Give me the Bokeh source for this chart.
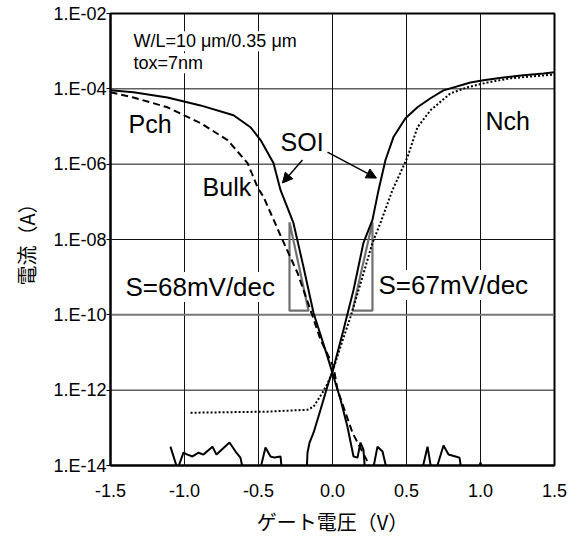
from bokeh.plotting import figure
from bokeh.models import (Range1d, FixedTicker, CustomJSTickFormatter, Label,
                          Arrow, NormalHead, Span)
from bokeh.embed import file_html
from bokeh.resources import INLINE

# ---------------- data (gate voltage V, log10 of drain current A) ----------------
soi_pch_v = [-1.5, -1.345, -1.115, -0.892, -0.669, -0.554, -0.486, -0.399, -0.351,
             -0.264, -0.196, -0.128, -0.034, 0.007, 0.054, 0.101, 0.142, 0.169,
             0.189, 0.209, 0.223, 0.264, 0.304, 0.338, 0.378, 0.595, 0.642, 0.676,
             0.709, 0.750, 0.784, 0.831, 0.858, 0.878, 0.973, 1.0, 1.027, 1.5]
soi_pch_log = [-4.04, -4.09, -4.23, -4.44, -4.70, -5.02, -5.36, -5.97, -6.69,
               -7.56, -8.73, -9.95, -11.11, -11.64, -12.25, -12.97, -13.76, -13.79,
               -13.39, -13.58, -14.3, -14.3, -13.50, -13.63, -14.3, -14.3, -13.50, -14.3,
               -14.0, -13.47, -13.71, -13.76, -13.79, -14.3, -14.3, -13.92, -14.3, -14.3]

soi_nch_v = [-1.095, -1.047, -1.007, -0.980, -0.946, -0.905, -0.872, -0.811, -0.784,
             -0.696, -0.655, -0.622, -0.595, -0.50, -0.453, -0.419, -0.392, -0.351,
             -0.338, -0.176, -0.169, -0.155, -0.128, -0.081, -0.027, 0.0, 0.074,
             0.142, 0.209, 0.270, 0.311, 0.358, 0.412, 0.493, 0.574, 0.662, 0.750,
             0.932, 1.020, 1.155, 1.290, 1.426, 1.5]
soi_nch_log = [-13.50, -14.1, -13.66, -13.71, -13.76, -13.66, -13.71, -13.50, -13.71,
               -13.39, -13.63, -13.79, -14.3, -14.3, -13.52, -13.76, -13.79, -13.76,
               -14.3, -14.3, -13.66, -13.39, -13.13, -12.52, -11.80, -11.51, -10.40,
               -9.34, -8.09, -7.48, -6.69, -5.89, -5.28, -4.78, -4.49, -4.25, -4.04,
               -3.83, -3.77, -3.70, -3.64, -3.59, -3.56]

bulk_pch_v = [-1.5, -1.345, -1.115, -0.892, -0.709, -0.574, -0.507, -0.466, -0.338,
              -0.236, -0.149, -0.081, 0.007, 0.034, 0.088, 0.135, 0.176, 0.236, 0.243]
bulk_pch_log = [-4.09, -4.23, -4.49, -4.91, -5.36, -5.97, -6.61, -6.87, -8.01,
                -8.89, -9.87, -10.66, -11.38, -11.99, -12.60, -13.13, -13.44, -13.89, -14.0]

bulk_nch_v = [-0.959, -0.439, -0.169, -0.128, -0.068, -0.034, 0.0, 0.054, 0.122,
              0.203, 0.270, 0.324, 0.405, 0.446, 0.507, 0.574, 0.662, 0.797, 0.912,
              1.047, 1.203, 1.5]
bulk_nch_log = [-12.60, -12.57, -12.52, -12.44, -12.07, -11.83, -11.51, -10.85, -10.05,
                -8.99, -8.09, -7.56, -6.69, -6.34, -5.81, -5.02, -4.57, -4.12, -3.96,
                -3.83, -3.72, -3.62]

# slope triangles (V, log10 I)
tri_left_v = [-0.2905, -0.2905, -0.162, -0.2905]
tri_right_v = [0.270, 0.270, 0.135, 0.270]
tri_log = [-7.54, -9.89, -9.89, -7.54]

x_ticks = [-1.5, -1.0, -0.5, 0.0, 0.5, 1.0, 1.5]
x_labels = ["-1.5", "-1.0", "-0.5", "0.0", "0.5", "1.0", "1.5"]
y_ticks = [1e-14, 1e-12, 1e-10, 1e-8, 1e-6, 1e-4, 1e-2]
y_labels = ["1.E-14", "1.E-12", "1.E-10", "1.E-08", "1.E-06", "1.E-04", "1.E-02"]


def cur(logs):
    return [10.0 ** v for v in logs]


FONT = "Liberation Sans"
JP = "Noto Sans CJK JP"

p = figure(width=571, height=538, x_range=Range1d(-1.5, 1.5),
           y_range=Range1d(1e-14, 1e-2), y_axis_type="log",
           output_backend="svg", toolbar_location=None,
           min_border_left=110, min_border_right=17, min_border_top=13,
           min_border_bottom=72)
p.background_fill_color = "white"
p.border_fill_color = "white"
p.outline_line_color = "black"
p.outline_line_width = 2
p.xgrid.visible = False
p.ygrid.visible = False

# axes
p.xaxis.ticker = FixedTicker(ticks=x_ticks)
p.yaxis.ticker = FixedTicker(ticks=y_ticks)
fmt_code = """
let best = -1, bd = 1e9;
for (let i = 0; i < tv.length; i++) {
  const d = LOGMODE ? Math.abs(Math.log10(tv[i]) - Math.log10(tick)) : Math.abs(tv[i] - tick);
  if (d < bd) { bd = d; best = i; }
}
return (best >= 0 && bd < 1e-6) ? tl[best] : "";
"""
p.xaxis.formatter = CustomJSTickFormatter(args=dict(tv=x_ticks, tl=x_labels),
                                          code=fmt_code.replace("LOGMODE", "false"))
p.yaxis.formatter = CustomJSTickFormatter(args=dict(tv=y_ticks, tl=y_labels),
                                          code=fmt_code.replace("LOGMODE", "true"))
for ax in (p.xaxis[0], p.yaxis[0]):
    ax.axis_line_color = "black"
    ax.axis_line_width = 2
    ax.major_label_text_font = FONT
    ax.major_label_text_font_size = "18px"
    ax.major_label_text_color = "black"
    ax.minor_tick_line_color = None
    ax.axis_label_text_font = JP
    ax.axis_label_text_font_size = "20px"
    ax.axis_label_text_font_style = "normal"
    ax.axis_label_text_color = "black"
p.xaxis.major_tick_line_color = None
p.xaxis.major_tick_out = 0
p.xaxis.major_tick_in = 0
p.xaxis.major_label_standoff = 18
p.xaxis.axis_label = "ゲート電圧（V）"
p.xaxis.axis_label_standoff = 7
p.yaxis.major_tick_line_color = "black"
p.yaxis.major_tick_out = 4
p.yaxis.major_tick_in = 0
p.yaxis.major_label_standoff = 0
p.yaxis.axis_label = "電流（A）"
p.yaxis.axis_label_standoff = 9

# grid lines at the tick positions
for v in x_ticks[1:-1]:
    p.add_layout(Span(location=v, dimension="height", line_color="#111111",
                      line_width=1, level="underlay"))
for v in y_ticks[1:-1]:
    gray = abs(v - 1e-10) < 1e-12
    p.add_layout(Span(location=v, dimension="width",
                      line_color="#777777" if gray else "#111111",
                      line_width=2 if gray else 1, level="underlay"))

# slope triangles
p.line(tri_left_v, cur(tri_log), line_color="#707070", line_width=2.2)
p.line(tri_right_v, cur(tri_log), line_color="#707070", line_width=2.2)

# curves
p.line(bulk_pch_v, cur(bulk_pch_log), line_color="black", line_width=2, line_dash="7 4")
p.line(bulk_nch_v, cur(bulk_nch_log), line_color="black", line_width=2, line_dash="2 2")
p.line(soi_pch_v, cur(soi_pch_log), line_color="black", line_width=2)
p.line(soi_nch_v, cur(soi_nch_log), line_color="black", line_width=2)


def lab(x, lg, text, size):
    p.add_layout(Label(x=x, y=10.0 ** lg, text=text, text_font=FONT,
                       text_font_size=size, text_color="black",
                       text_align="left", text_baseline="middle",
                       background_fill_color="white"))


lab(-1.345, -2.74, "W/L=10 μm/0.35 μm", "18px")
lab(-1.345, -3.32, "tox=7nm", "18px")
lab(-1.378, -4.94, "Pch", "25px")
lab(1.034, -4.86, "Nch", "25px")
lab(-0.351, -5.42, "SOI", "25px")
lab(-0.878, -6.61, "Bulk", "25px")
lab(-1.399, -9.26, "S=68mV/dec", "26px")
lab(0.311, -9.21, "S=67mV/dec", "26px")

for xs, ys, xe, ye in [(-0.203, -5.89, -0.338, -6.50), (-0.034, -5.68, 0.297, -6.37)]:
    p.add_layout(Arrow(end=NormalHead(size=10, fill_color="black", line_color="black"),
                       x_start=xs, y_start=10.0 ** ys, x_end=xe, y_end=10.0 ** ye,
                       line_color="black", line_width=1.5))

open("out.html", "w").write(file_html(p, INLINE))
